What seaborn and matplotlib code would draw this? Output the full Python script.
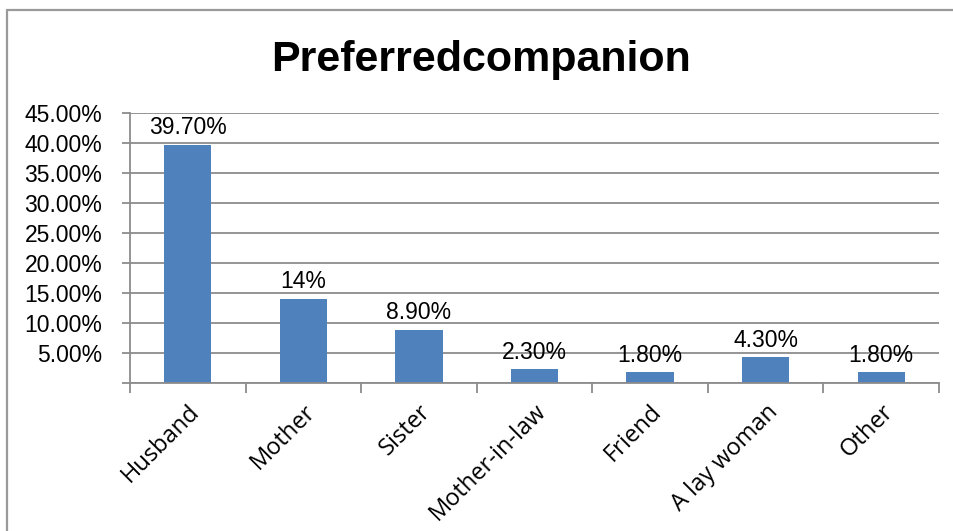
import matplotlib
matplotlib.use("Agg")
import matplotlib.pyplot as plt
from matplotlib.lines import Line2D
import seaborn as sns
import pandas as pd
import numpy as np

categories = ["Husband", "Mother", "Sister", "Mother-in-law", "Friend", "A lay woman", "Other"]
values = [39.7, 14.0, 8.9, 2.3, 1.8, 4.3, 1.8]
value_labels = ["39.70%", "14%", "8.90%", "2.30%", "1.80%", "4.30%", "1.80%"]
y_ticks = [5, 10, 15, 20, 25, 30, 35, 40, 45]
title = "Preferredcompanion"

sns.set_theme(style="white")
plt.rcParams["font.family"] = ["Liberation Sans", "DejaVu Sans"]
plt.rcParams["text.color"] = "black"
plt.rcParams["xtick.color"] = "black"
plt.rcParams["ytick.color"] = "black"

W, H = 954, 531
fig = plt.figure(figsize=(W / 100, H / 100), dpi=100)
fig.patch.set_facecolor("white")

left, right, top, bottom = 130, 939, 113, 383
ax = fig.add_axes([left / W, 1 - bottom / H, (right - left) / W, (bottom - top) / H])

df = pd.DataFrame({"companion": categories, "share": values})
sns.barplot(data=df, x="companion", y="share", color="#4F81BD", saturation=1,
            width=0.41, ax=ax, edgecolor="none")

ax.set_ylim(0, 45)
ax.set_xlim(-0.5, len(categories) - 0.5)
ax.set_xlabel("")
ax.set_ylabel("")

grid_color = "#8c8c8c"
ax.set_yticks([0] + y_ticks)
ax.set_yticklabels([""] + [f"{t:.2f}%" for t in y_ticks], fontsize=16.5, color="black")
ax.yaxis.grid(True, color=grid_color, linewidth=1.3)
ax.set_axisbelow(True)
ax.tick_params(axis="y", which="major", left=True, length=6, width=1.3,
               color=grid_color, labelcolor="black", pad=14)

ax.set_xticks(range(len(categories)))
ax.set_xticklabels(categories, rotation=45, ha="right", rotation_mode="anchor",
                   fontsize=17, color="black", family=["Open Sans", "DejaVu Sans"])
ax.tick_params(axis="x", which="major", length=0, pad=12, labelcolor="black")
ax.set_xticks(np.arange(-0.5, len(categories), 1), minor=True)
ax.tick_params(axis="x", which="minor", bottom=True, length=7, width=1.3, color=grid_color)

for side in ["top", "right"]:
    ax.spines[side].set_visible(False)
for side in ["left", "bottom"]:
    ax.spines[side].set_color(grid_color)
    ax.spines[side].set_linewidth(1.3)

for i, (v, lab) in enumerate(zip(values, value_labels)):
    ax.annotate(lab, (i, v), xytext=(0, 4), textcoords="offset points",
                ha="center", va="bottom", fontsize=16.5, color="black")

fig.text(481 / W, 1 - 60 / H, title, ha="center", va="center", fontsize=31,
         fontweight="bold", color="black")

# outer chart frame (left and top edges)
fig.add_artist(Line2D([7 / W, 7 / W], [0, 1 - 10 / H], transform=fig.transFigure,
                      color="#9a9a9a", linewidth=1.6))
fig.add_artist(Line2D([7 / W, 1], [1 - 10 / H, 1 - 10 / H], transform=fig.transFigure,
                      color="#9a9a9a", linewidth=1.6))

fig.savefig("out.png", dpi=100, facecolor="white")
